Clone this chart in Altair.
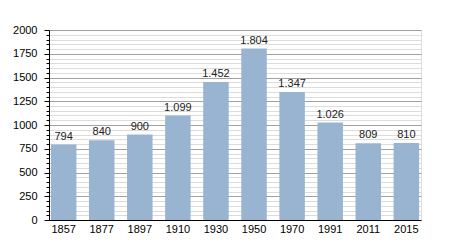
import altair as alt
import pandas as pd

years = ["1857", "1877", "1897", "1910", "1930", "1950", "1970", "1991", "2011", "2015"]
population = [794, 840, 900, 1099, 1452, 1804, 1347, 1026, 809, 810]
major_ticks = list(range(0, 2001, 250))
minor_ticks = [v for v in range(0, 2001, 50) if v % 250 != 0]

df = pd.DataFrame({
    "year": years,
    "pop": population,
    "label": [f"{v:,}".replace(",", ".") for v in population],
})

FONT = "Liberation Sans"
yscale = alt.Scale(domain=[0, 2000], nice=False)
xenc = alt.X("year:N", sort=years, title=None,
             scale=alt.Scale(paddingInner=0.33, paddingOuter=0.05),
             axis=alt.Axis(labelAngle=0, ticks=False, domainColor="black",
                           labelFont=FONT, labelFontSize=11, labelColor="black",
                           labelPadding=3, grid=False))

minor = alt.Chart(df).mark_bar(opacity=0).encode(
    x=xenc,
    y=alt.Y("pop:Q", scale=yscale, title=None,
            axis=alt.Axis(values=minor_ticks, labels=False, tickSize=3,
                          tickColor="black", domain=False, grid=True,
                          gridColor="#dcdcdc", orient="left")),
)

bars = alt.Chart(df).mark_bar(color="#99b4d1").encode(
    x=xenc,
    y=alt.Y("pop:Q", scale=yscale, title=None,
            axis=alt.Axis(values=major_ticks, format="d", tickSize=5,
                          tickColor="black", domainColor="black", grid=True,
                          gridColor="#a0a0a0", labelFont=FONT, labelFontSize=11,
                          labelColor="black", labelPadding=7, orient="left")),
)

text = alt.Chart(df).mark_text(baseline="alphabetic", dy=-5, font=FONT,
                               fontSize=11, color="#222222").encode(
    x=alt.X("year:N", sort=years),
    y=alt.Y("pop:Q", scale=yscale, axis=None),
    text="label:N",
)

chart = alt.layer(minor, bars, text).resolve_axis(y="independent").properties(
    width=372, height=190,
    autosize=alt.AutoSizeParams(type="none"),
    padding={"left": 49, "top": 30, "right": 29, "bottom": 30},
).configure_view(stroke=None).configure(background="white")

chart.save("out.html", embed_options={"renderer": "svg", "actions": False})
